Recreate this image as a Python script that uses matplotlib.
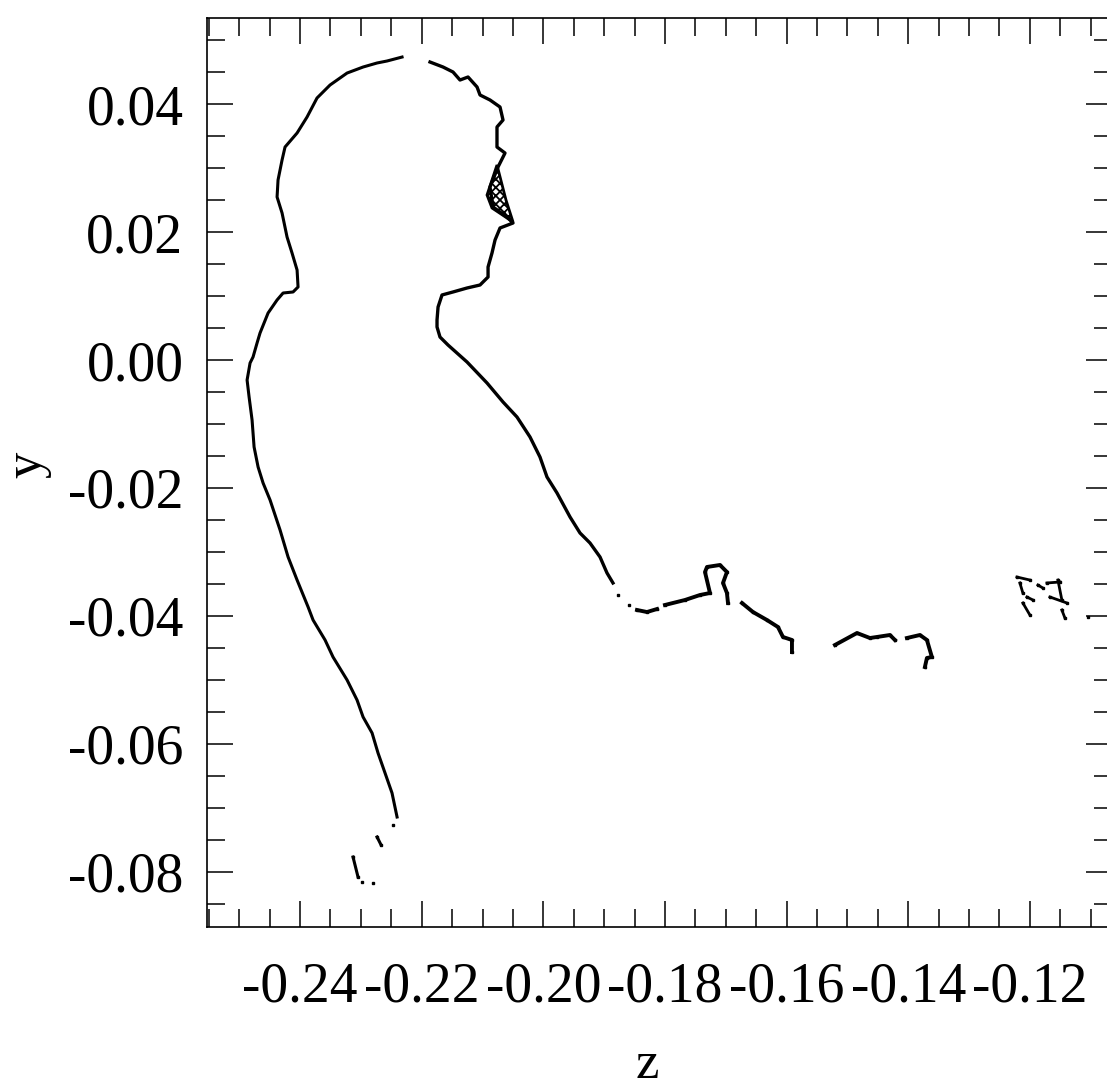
import matplotlib
matplotlib.use("Agg")
import matplotlib.pyplot as plt
from matplotlib.ticker import MultipleLocator, FormatStrFormatter

plt.rcParams['font.family'] = ['Liberation Serif', 'DejaVu Serif']
plt.rcParams['axes.unicode_minus'] = False
plt.rcParams['hatch.linewidth'] = 1.3

# back of head, neck and back
back_z = [-0.22323, -0.22570, -0.22734, -0.22964, -0.23227, -0.23507, -0.23721, -0.23885,
          -0.24049, -0.24247, -0.24296, -0.24362, -0.24378, -0.24296, -0.24214, -0.24132,
          -0.24049, -0.24033, -0.24115, -0.24279, -0.24378, -0.24526, -0.24658, -0.24707,
          -0.24773, -0.24822, -0.24871, -0.24838, -0.24789, -0.24756, -0.24690, -0.24608,
          -0.24493, -0.24329, -0.24197, -0.24049, -0.23868, -0.23786, -0.23589, -0.23458,
          -0.23227, -0.23063, -0.22964, -0.22816, -0.22718, -0.22603, -0.22488, -0.22405]
back_y = [0.04734, 0.04672, 0.04641, 0.04578, 0.04484, 0.04297, 0.04094, 0.03797,
          0.03547, 0.03328, 0.03125, 0.02813, 0.02547, 0.02297, 0.01922, 0.01672,
          0.01406, 0.01141, 0.01063, 0.01047, 0.00938, 0.00734, 0.00422, 0.00266,
          0.00047, -0.00047, -0.00313, -0.00578, -0.00938, -0.01359, -0.01672, -0.01922,
          -0.02188, -0.02656, -0.03078, -0.03438, -0.03859, -0.04063, -0.04375, -0.04641,
          -0.05000, -0.05313, -0.05578, -0.05828, -0.06141, -0.06453, -0.06766, -0.07141]

# fragments below the back line
tail_z = [[-0.22471], [-0.22734, -0.22668], [-0.23129, -0.23047], [-0.22981], [-0.22800]]
tail_y = [[-0.07266], [-0.07453, -0.07578], [-0.07766, -0.08078], [-0.08156], [-0.08172]]

# face, throat and chest
front_z = [-0.21863, -0.21649, -0.21485, -0.21370, -0.21238, -0.21090, -0.21041, -0.20877,
           -0.20712, -0.20663, -0.20762, -0.20762, -0.20630, -0.20745, -0.20877, -0.20827,
           -0.20597, -0.20498, -0.20712, -0.20794, -0.20844, -0.20909, -0.20909, -0.21041,
           -0.21255, -0.21485, -0.21666, -0.21731, -0.21748, -0.21748, -0.21699, -0.21567,
           -0.21255, -0.20926, -0.20663, -0.20433, -0.20219, -0.20055, -0.19940, -0.19775,
           -0.19561, -0.19397, -0.19233, -0.19068, -0.18953, -0.18855]
front_y = [0.04656, 0.04578, 0.04500, 0.04375, 0.04422, 0.04266, 0.04141, 0.04063,
           0.03953, 0.03750, 0.03641, 0.03328, 0.03234, 0.03016, 0.02703, 0.02391,
           0.02234, 0.02141, 0.02063, 0.01875, 0.01672, 0.01453, 0.01297, 0.01172,
           0.01125, 0.01063, 0.01016, 0.00828, 0.00625, 0.00516, 0.00359, 0.00234,
           -0.00031, -0.00359, -0.00656, -0.00891, -0.01203, -0.01516, -0.01828, -0.02078,
           -0.02453, -0.02703, -0.02859, -0.03078, -0.03328, -0.03484]

# dense patch on the nose
nose_z = [-0.20762, -0.20926, -0.20844, -0.20498, -0.20614]
nose_y = [0.03047, 0.02578, 0.02375, 0.02156, 0.02500]

# pieces along the lower edge (hand / arm)
lower_z = [
    [-0.18772],
    [-0.18591],
    [-0.18460, -0.18296, -0.18131],
    [-0.18000, -0.17671, -0.17424, -0.17260, -0.17342, -0.17309, -0.17096, -0.16981,
     -0.17046, -0.16981, -0.16964],
    [-0.16734, -0.16553, -0.16323, -0.16142, -0.16060, -0.15912, -0.15912],
    [-0.15205, -0.14843, -0.14630, -0.14515, -0.14301, -0.14219],
    [-0.14022, -0.13808, -0.13693, -0.13611, -0.13693, -0.13726],
]
lower_y = [
    [-0.03672],
    [-0.03828],
    [-0.03906, -0.03938, -0.03891],
    [-0.03828, -0.03750, -0.03672, -0.03641, -0.03313, -0.03234, -0.03203, -0.03313,
     -0.03484, -0.03641, -0.03797],
    [-0.03797, -0.03938, -0.04063, -0.04172, -0.04328, -0.04375, -0.04563],
    [-0.04453, -0.04266, -0.04344, -0.04328, -0.04297, -0.04375],
    [-0.04344, -0.04297, -0.04375, -0.04641, -0.04656, -0.04797],
]

# scattered specks at the right
speck_z = [[-0.12213, -0.12000], [-0.12164, -0.12115], [-0.12049, -0.11950],
           [-0.12115, -0.12000], [-0.11720, -0.11506], [-0.11539, -0.11474],
           [-0.11671, -0.11391], [-0.11474, -0.11424], [-0.11868, -0.11786], [-0.11046]]
speck_y = [[-0.03391, -0.03438], [-0.03484, -0.03641], [-0.03703, -0.03750],
           [-0.03797, -0.03984], [-0.03484, -0.03469], [-0.03438, -0.03750],
           [-0.03703, -0.03797], [-0.03906, -0.04031], [-0.03516, -0.03563], [-0.04016]]

fig = plt.figure(figsize=(11.07, 10.91), dpi=100)
ax = fig.add_axes([0.187, 0.1503, 0.8175, 0.8332])

ax.plot(back_z, back_y, color='black', lw=2.2)
for zz, yy in zip(tail_z, tail_y):
    ax.plot(zz, yy, color='black', lw=2.2, marker='s', ms=2)
ax.plot(front_z, front_y, color='black', lw=2.4)
ax.fill(nose_z, nose_y, facecolor='white', edgecolor='black', hatch='xxxx', lw=2)
for zz, yy in zip(lower_z, lower_y):
    ax.plot(zz, yy, color='black', lw=2.8, marker='s', ms=2)
for zz, yy in zip(speck_z, speck_y):
    ax.plot(zz, yy, color='black', lw=2, marker='s', ms=2)

ax.set_xlim(-0.2553, -0.1065)
ax.set_ylim(-0.0886, 0.05344)

ax.xaxis.set_major_locator(MultipleLocator(0.02))
ax.xaxis.set_minor_locator(MultipleLocator(0.005))
ax.yaxis.set_major_locator(MultipleLocator(0.02))
ax.yaxis.set_minor_locator(MultipleLocator(0.005))
ax.xaxis.set_major_formatter(FormatStrFormatter('%.2f'))
ax.yaxis.set_major_formatter(FormatStrFormatter('%.2f'))

ax.tick_params(which='both', direction='in', top=True, right=True, width=1.1, labelsize=40)
ax.tick_params(which='major', length=19)
ax.tick_params(which='minor', length=13)
ax.tick_params(axis='x', which='major', pad=25)
ax.tick_params(axis='y', which='major', pad=17)
for s in ax.spines.values():
    s.set_linewidth(1.2)

ax.set_xlabel('z', fontsize=38)
ax.set_ylabel('y', fontsize=38)
ax.xaxis.set_label_coords(0.487, -0.166)
ax.xaxis.label.set_va('baseline')
ax.yaxis.set_label_coords(-0.198, 0.508)
ax.yaxis.label.set_va('center')

fig.savefig('out.png', dpi=100)
